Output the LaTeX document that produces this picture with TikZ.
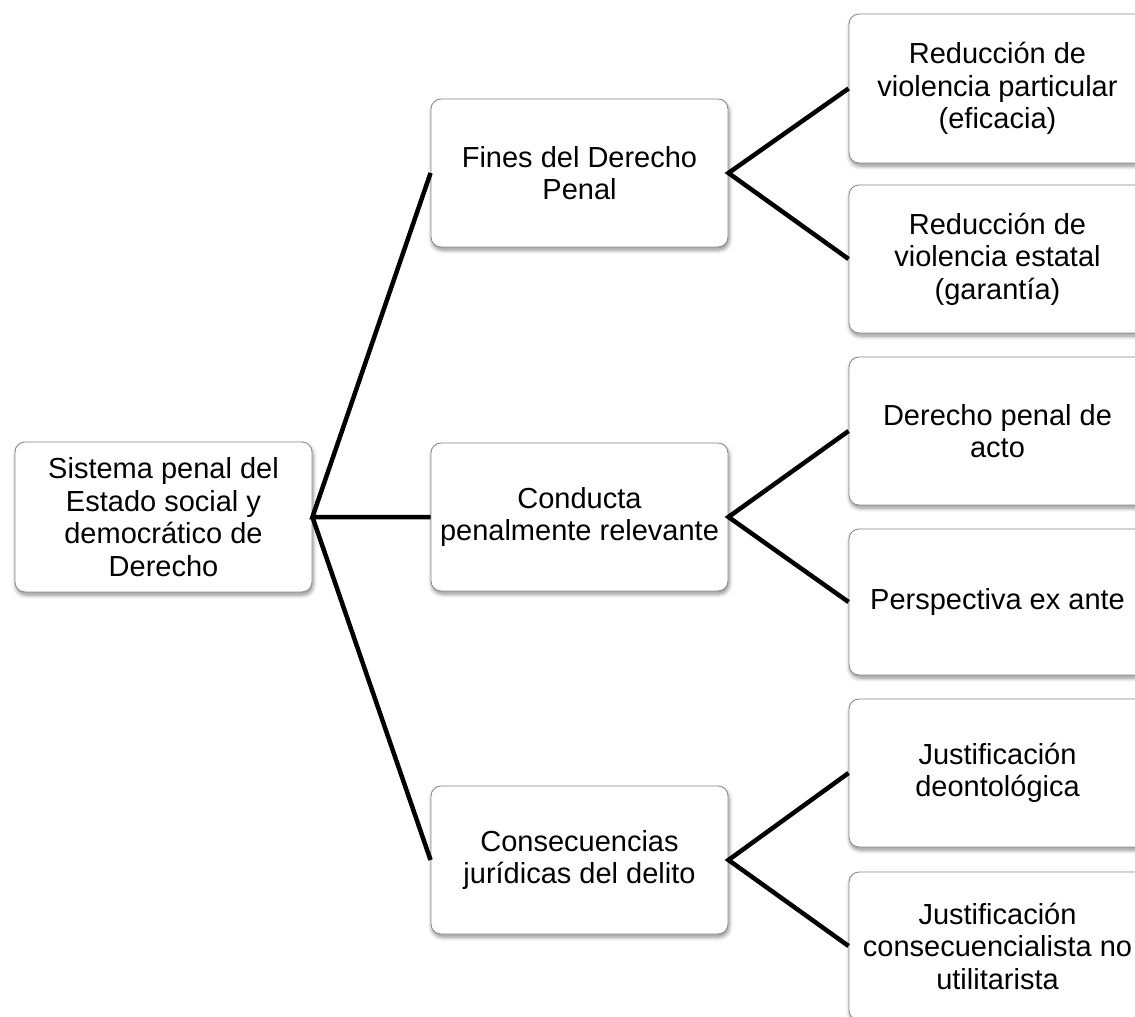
\documentclass[tikz,border=0pt]{standalone}
\usepackage{fontspec}
\setmainfont{Liberation Sans}
\usetikzlibrary{shadows.blur}
\begin{document}
\begin{tikzpicture}[x=1pt,y=-1pt,
  box/.style={draw=black!45, line width=0.9pt, fill=white, rounded corners=10pt,
    minimum width=297pt, minimum height=148pt, align=center, inner sep=0pt,
    font=\fontsize{29}{32.5}\selectfont,
    blur shadow={shadow xshift=1pt, shadow yshift=-3pt, shadow blur radius=4pt,
      shadow blur steps=6, shadow opacity=45}},
  link/.style={line width=4.5pt, black}]
\useasboundingbox (0,0) rectangle (1135,1017);
\clip (0,0) rectangle (1135,1017);

% root
\node[box, minimum height=150pt] (root) at (163.5,517)
  {Sistema penal del\\Estado social y\\democrático de\\Derecho};

% second level
\node[box] (fines) at (579.5,173) {Fines del Derecho\\Penal};
\node[box] (conducta) at (579.5,517) {Conducta\\penalmente relevante};
\node[box] (consec) at (579.5,860) {Consecuencias\\jurídicas del delito};

% third level
\node[box, minimum height=149pt] (r1) at (997.5,88.5) {Reducción de\\violencia particular\\(eficacia)};
\node[box] (r2) at (997.5,259) {Reducción de\\violencia estatal\\(garantía)};
\node[box] (r3) at (997.5,431) {Derecho penal de\\acto};
\node[box, minimum height=146pt] (r4) at (997.5,602) {Perspectiva ex ante};
\node[box] (r5) at (997.5,773) {Justificación\\deontológica};
\node[box] (r6) at (997.5,946) {Justificación\\consecuencialista no\\utilitarista};

% connectors
\draw[link] (fines.west) -- (root.east) -- (conducta.west);
\draw[link] (root.east) -- (consec.west);
\draw[link] (r1.west) -- (fines.east) -- (r2.west);
\draw[link] (r3.west) -- (conducta.east) -- (r4.west);
\draw[link] (r5.west) -- (consec.east) -- (r6.west);
\end{tikzpicture}
\end{document}
